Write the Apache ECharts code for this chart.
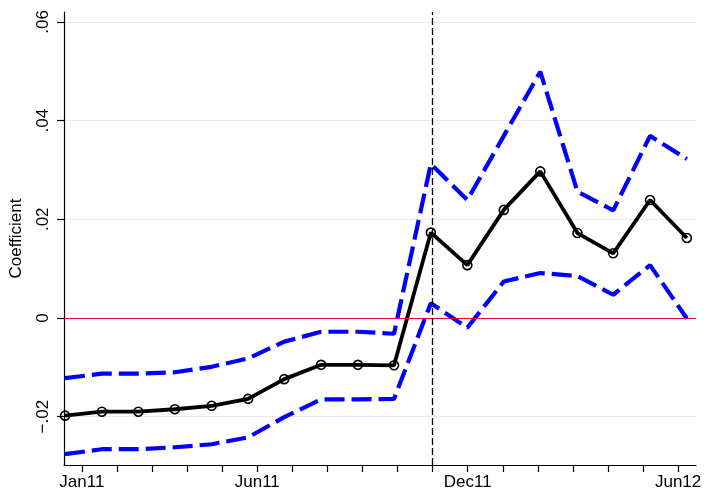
<!DOCTYPE html>
<html>
<head>
<meta charset="utf-8">
<script src="https://cdn.jsdelivr.net/npm/echarts@6/dist/echarts.min.js"></script>
<style>
html,body{margin:0;padding:0;background:#fff;}
#chart{width:707px;height:493px;}
</style>
</head>
<body>
<div id="chart"></div>
<script>
// Month index (0 = Jan11) at which each estimate is placed
const monthPos = [-0.48, 0.57, 1.61, 2.65, 3.70, 4.74, 5.77, 6.82, 7.87, 8.90,
                  9.95, 10.99, 12.03, 13.07, 14.13, 15.15, 16.20, 17.25];
// Point estimates
const coef = [-0.0198, -0.0190, -0.0190, -0.0185, -0.0178, -0.0164, -0.0124, -0.0095, -0.0095, -0.0096,
              0.0173, 0.0107, 0.0219, 0.0297, 0.0172, 0.0131, 0.0239, 0.0162];
// Upper and lower confidence bounds
const upper = [-0.0122, -0.0113, -0.0113, -0.0110, -0.0099, -0.0082, -0.0048, -0.0028, -0.0028, -0.0032,
               0.0312, 0.0239, 0.0369, 0.0499, 0.0256, 0.0218, 0.0369, 0.0322];
const lower = [-0.0276, -0.0266, -0.0266, -0.0262, -0.0256, -0.0242, -0.0201, -0.0165, -0.0165, -0.0164,
               0.0030, -0.0020, 0.0074, 0.0091, 0.0085, 0.0047, 0.0107, -0.0001];
// Axis ticks
const monthTicks = [0,1,2,3,4,5,6,7,8,9,10,11,12,13,14,15,16,17];
const monthLabelPos = [0, 5, 11, 17];
const monthLabels = ['Jan11', 'Jun11', 'Dec11', 'Jun12'];
const yTicks = [-0.02, 0, 0.02, 0.04, 0.06];
const yTickLabels = ['\u2212.02', '0', '.02', '.04', '.06'];
const eventMonth = 10;

const pair = (ys) => ys.map((y, i) => [monthPos[i], y]);
const font = 'Liberation Sans, Arial, sans-serif';

const chart = echarts.init(document.getElementById('chart'), null, {renderer: 'canvas'});
chart.setOption({
  animation: false,
  backgroundColor: '#ffffff',
  grid: {left: 62, right: 11, top: 12, bottom: 28, containLabel: false},
  xAxis: {
    type: 'value', min: -0.51, max: 17.51,
    axisLine: {show: true, onZero: false, lineStyle: {color: '#000', width: 1.2}},
    axisTick: {show: true, length: 7, lineStyle: {color: '#000', width: 1.2}, customValues: monthTicks},
    axisLabel: {
      customValues: monthLabelPos, margin: 9,
      fontFamily: font, fontSize: 17, color: '#000',
      formatter: (v) => monthLabels[monthLabelPos.indexOf(Math.round(v))] || ''
    },
    splitLine: {show: false}
  },
  yAxis: {
    type: 'value', min: -0.0298, max: 0.062,
    name: 'Coefficient', nameLocation: 'middle', nameRotate: 90, nameGap: 39,
    nameTextStyle: {fontFamily: font, fontSize: 17, color: '#000'},
    axisLine: {show: true, onZero: false, lineStyle: {color: '#000', width: 1.2}},
    axisTick: {show: true, length: 7, lineStyle: {color: '#000', width: 1.2}, customValues: yTicks},
    axisLabel: {
      customValues: yTicks, rotate: 90, margin: 12,
      fontFamily: font, fontSize: 17, color: '#000',
      formatter: (v) => {
        const k = yTicks.findIndex(t => Math.abs(t - v) < 1e-9);
        return k >= 0 ? yTickLabels[k] : '';
      }
    },
    splitLine: {show: true, lineStyle: {color: '#e6edf0', width: 1.2}}
  },
  series: [
    {
      name: 'upper', type: 'line', data: pair(upper), symbol: 'none',
      lineStyle: {color: '#0000ff', width: 4.2, type: [20, 7]}, z: 2,
      markLine: {
        silent: true, symbol: 'none', label: {show: false},
        data: [
          {yAxis: 0, lineStyle: {color: '#dc0a3c', width: 1.2, type: 'solid'}},
          {xAxis: eventMonth, lineStyle: {color: '#000', width: 1.3, type: [7, 3]}}
        ]
      }
    },
    {
      name: 'lower', type: 'line', data: pair(lower), symbol: 'none',
      lineStyle: {color: '#0000ff', width: 4.2, type: [20, 7]}, z: 2
    },
    {
      name: 'coef', type: 'line', data: pair(coef),
      symbol: 'circle', symbolSize: 9, showSymbol: true,
      itemStyle: {color: 'rgba(255,255,255,0)', borderColor: '#000', borderWidth: 1.6},
      lineStyle: {color: '#000', width: 3.8}, z: 3
    }
  ]
});
</script>
</body>
</html>
